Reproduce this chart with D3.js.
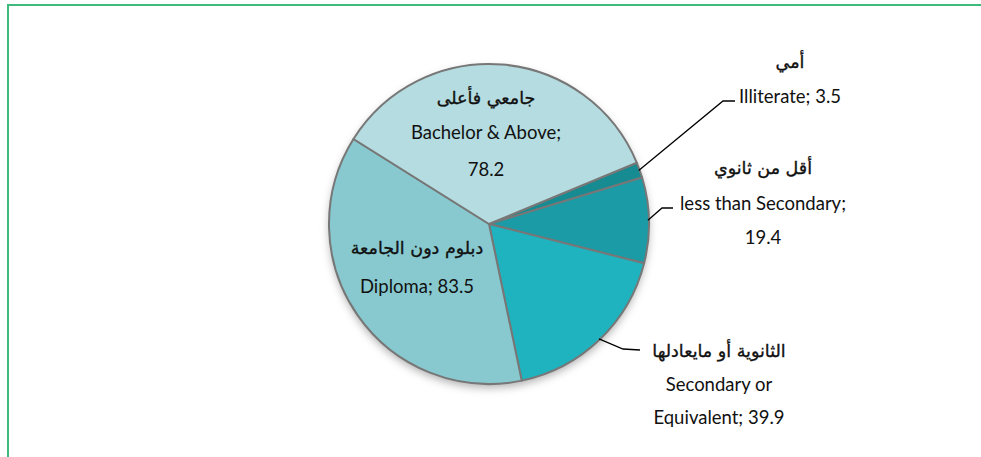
<!DOCTYPE html>
<html><head><meta charset="utf-8">
<script src="https://cdn.jsdelivr.net/npm/d3@7"></script>
<style>body{margin:0;background:#fff} svg{display:block}</style>
</head><body>
<svg id="c" width="981" height="457"></svg>
<script>
// ---- data ----
const categories = ["Illiterate", "less than Secondary", "Secondary or Equivalent", "Diploma", "Bachelor & Above"];
const arabicLabels = ["أمي", "أقل من ثانوي", "الثانوية أو مايعادلها", "دبلوم دون الجامعة", "جامعي فأعلى"];
const values = [3.5, 19.4, 39.9, 83.5, 78.2];
const englishLines = [
  ["Illiterate; 3.5"],
  ["less than Secondary;", "19.4"],
  ["Secondary or", "Equivalent; 39.9"],
  ["Diploma; 83.5"],
  ["Bachelor & Above;", "78.2"]
];
const colors = ["#168b92", "#1a9ba6", "#1fb3bf", "#88c9d0", "#b5dce0"];

// ---- layout ----
const W = 981, H = 457;
const cx = 489, cy = 224, R = 160;
const startDeg = 67.5;
const labelLayout = [
  {x: 790, y: 62, gaps: [34], leader: [[723, 101], [735, 101]]},
  {x: 763, y: 168, gaps: [35, 34], leader: [[662, 208], [673, 208]]},
  {x: 719, y: 351, gaps: [33, 33], leader: [[623, 349], [640, 350]]},
  {x: 417, y: 248, gaps: [38], leader: null},
  {x: 486, y: 98, gaps: [34, 37], leader: null}
];

const svg = d3.select("#c");
const defs = svg.append("defs");
const f = defs.append("filter").attr("id", "sh").attr("x", "-20%").attr("y", "-20%").attr("width", "140%").attr("height", "150%");
f.append("feDropShadow").attr("dx", 0).attr("dy", 4).attr("stdDeviation", 4).attr("flood-color", "#000").attr("flood-opacity", 0.3);

// frame
svg.append("line").attr("x1", 8).attr("y1", 4).attr("x2", 8).attr("y2", H).attr("stroke", "#3dba7c").attr("stroke-width", 2);
svg.append("line").attr("x1", 7).attr("y1", 5).attr("x2", W).attr("y2", 5).attr("stroke", "#3dba7c").attr("stroke-width", 2);

const g = svg.append("g").attr("transform", `translate(${cx},${cy})`);
const a0 = startDeg * Math.PI / 180;
const pie = d3.pie().sort(null).value(d => d).startAngle(a0).endAngle(a0 + 2 * Math.PI);
const arcs = pie(values);
const arc = d3.arc().innerRadius(0).outerRadius(R);

g.append("circle").attr("r", R).attr("fill", "#fff").attr("filter", "url(#sh)");
g.selectAll("path.slice").data(arcs).join("path").attr("class", "slice")
  .attr("d", arc).attr("fill", (d, i) => colors[i])
  .attr("stroke", "#777").attr("stroke-width", 2).attr("stroke-linejoin", "round");

// leader lines
arcs.forEach((d, i) => {
  const L = labelLayout[i];
  if (!L.leader) return;
  const m = (d.startAngle + d.endAngle) / 2;
  const p0 = [cx + Math.sin(m) * (R - 1), cy - Math.cos(m) * (R - 1)];
  svg.append("polyline")
    .attr("points", [p0, ...L.leader].map(p => p.join(",")).join(" "))
    .attr("fill", "none").attr("stroke", "#000").attr("stroke-width", 1.3);
});

// labels
const latinFont = "Lato, 'Open Sans', sans-serif";
const arabicFont = "'DejaVu Sans', sans-serif";
categories.forEach((c, i) => {
  const L = labelLayout[i];
  let y = L.y;
  svg.append("text").attr("x", L.x).attr("y", y).attr("text-anchor", "middle")
    .attr("dominant-baseline", "central").attr("direction", "rtl")
    .style("font-family", arabicFont).style("font-size", "17.5px").attr("fill", "#111")
    .attr("stroke", "#111").attr("stroke-width", 0.35)
    .text(arabicLabels[i]);
  englishLines[i].forEach((t, k) => {
    y += L.gaps[k];
    svg.append("text").attr("x", L.x).attr("y", y).attr("text-anchor", "middle")
      .attr("dominant-baseline", "central")
      .style("font-family", latinFont).style("font-size", "18.5px").attr("fill", "#111")
      .text(t);
  });
});
</script>
</body></html>
